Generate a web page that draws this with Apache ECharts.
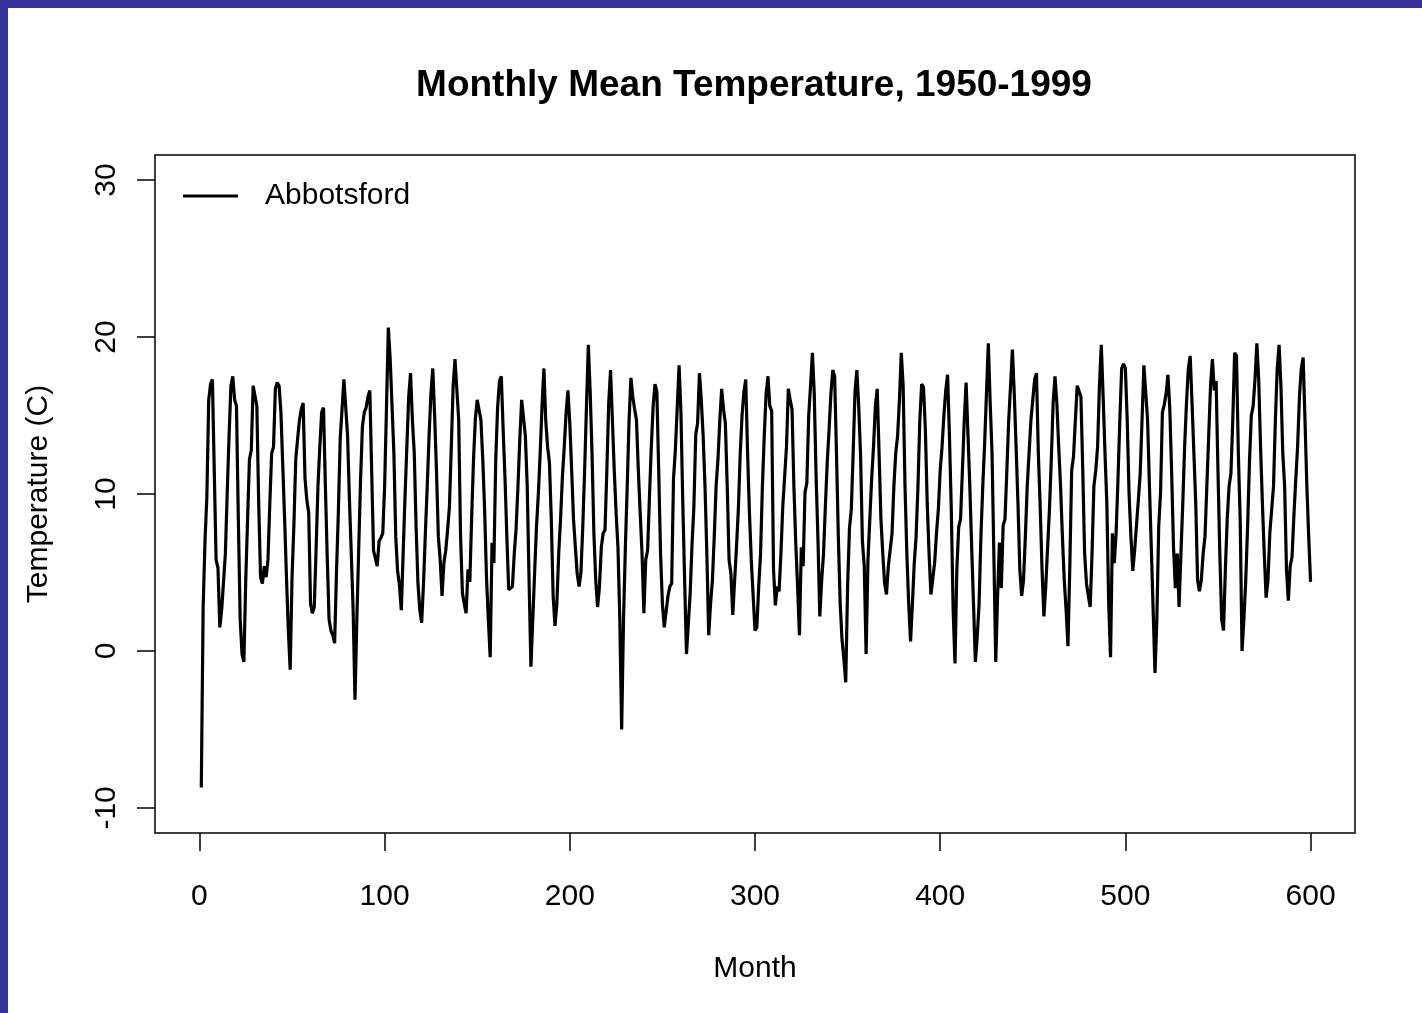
<!DOCTYPE html>
<html>
<head>
<meta charset="utf-8">
<script src="https://cdn.jsdelivr.net/npm/echarts/dist/echarts.min.js"></script>
<style>
html,body{margin:0;padding:0;background:#ffffff;}
#chart{position:absolute;left:0;top:0;width:1422px;height:1013px;}
.bl{position:absolute;left:0;top:0;width:8px;height:1013px;background:#333399;z-index:5;}
.bt{position:absolute;left:0;top:0;width:1422px;height:8px;background:#333399;z-index:5;}
</style>
</head>
<body>
<div id="chart"></div>
<div class="bl"></div>
<div class="bt"></div>
<script>
// Monthly mean temperature, Abbotsford, one array per decade (12 values per year)
var temps1950s = [
  -8.7, 2.8, 7.0, 9.8, 16.0, 17.0, 17.3, 11.5, 5.8, 5.3, 1.5, 2.6,
  2.6, 6.2, 10.1, 13.7, 16.9, 17.5, 16.0, 15.6, 8.4, 2.0, -0.2, -0.7,
  4.5, 8.4, 12.2, 12.8, 16.9, 17.0, 15.6, 9.4, 4.7, 4.3, 5.4, 4.7,
  5.8, 9.4, 12.6, 13.0, 16.7, 17.1, 16.9, 15.2, 11.8, 8.4, 4.7, 1.3,
  -1.2, 4.7, 8.0, 12.2, 13.5, 14.7, 15.4, 15.8, 11.0, 9.6, 8.8, 3.0,
  2.4, 2.8, 6.5, 10.5, 13.0, 15.2, 15.5, 10.5, 6.0, 2.0, 1.3, 1.0,
  0.5, 5.0, 8.8, 13.5, 13.6, 17.3, 17.2, 13.7, 9.6, 6.2, 2.6, -3.1,
  2.0, 6.5, 10.9, 14.3, 15.2, 15.5, 16.2, 16.6, 11.5, 6.4, 5.9, 5.4,
  7.0, 7.2, 7.5, 10.5, 15.5, 20.6, 18.6, 15.6, 12.6, 7.3, 5.1, 4.2,
  2.6, 6.2, 9.8, 13.0, 16.2, 17.7, 14.7, 12.6, 7.9, 4.3, 2.6, 1.8
];
var temps1960s = [
  4.3, 7.5, 10.5, 13.7, 16.4, 18.0, 15.0, 11.5, 7.3, 5.8, 3.5, 5.6,
  6.4, 7.7, 9.2, 13.0, 16.9, 18.6, 18.6, 14.7, 7.3, 3.7, 3.0, 2.4,
  5.2, 4.4, 8.5, 12.2, 14.8, 16.0, 16.1, 14.7, 12.2, 9.0, 4.7, 2.0,
  -0.4, 6.9, 5.6, 12.2, 15.5, 17.2, 17.5, 14.1, 11.0, 7.3, 3.9, 3.9,
  4.1, 6.2, 7.8, 10.5, 13.5, 16.0, 16.1, 13.7, 10.5, 4.5, -1.0, 2.0,
  5.0, 7.9, 10.0, 12.6, 15.6, 18.0, 14.7, 13.0, 12.0, 8.4, 3.5, 1.6,
  3.0, 6.2, 8.4, 11.1, 13.0, 15.2, 16.6, 14.5, 11.5, 8.4, 6.6, 4.9,
  4.1, 5.0, 7.9, 11.5, 15.6, 19.5, 16.5, 12.6, 7.5, 4.5, 2.8, 4.1,
  6.6, 7.5, 7.7, 11.5, 15.8, 17.9, 14.7, 11.5, 8.8, 6.6, 2.0, -5.0,
  2.0, 6.6, 10.5, 14.7, 17.4, 16.2, 15.4, 14.7, 11.5, 8.8, 6.2, 2.4
];
var temps1970s = [
  5.8, 6.4, 9.8, 13.0, 15.6, 17.0, 16.5, 11.5, 6.2, 3.0, 1.5, 2.5,
  3.5, 4.1, 4.3, 11.0, 12.8, 15.5, 18.2, 15.2, 9.5, 4.5, -0.2, -0.3,
  3.7, 6.8, 9.2, 13.8, 14.5, 17.7, 16.0, 13.7, 10.5, 6.2, 1.0, 3.0,
  4.5, 7.3, 10.5, 12.2, 14.7, 16.7, 15.4, 14.5, 10.5, 5.8, 4.9, 2.3,
  4.5, 6.6, 9.0, 12.5, 15.0, 16.5, 17.3, 12.6, 8.8, 5.8, 3.5, 1.3,
  1.5, 4.1, 6.2, 10.5, 13.7, 16.4, 17.5, 15.6, 15.3, 5.2, 2.9, 4.1,
  3.8, 6.2, 9.2, 11.1, 13.0, 16.7, 16.0, 15.4, 10.5, 6.9, 4.1, 1.0,
  6.6, 5.4, 10.1, 10.7, 15.0, 16.9, 19.0, 16.4, 11.1, 7.1, 2.2, 4.5,
  6.2, 9.2, 12.0, 14.1, 16.4, 17.9, 17.5, 12.6, 7.3, 3.0, 0.7, -0.5,
  -2.0, 4.1, 7.8, 9.0, 12.6, 16.5, 17.9, 15.6, 12.5, 7.0, 5.4, -0.2
];
var temps1980s = [
  5.8, 8.4, 11.0, 13.0, 15.6, 16.7, 12.6, 8.4, 6.2, 4.3, 3.6, 5.4,
  5.4, 7.5, 10.5, 12.6, 13.7, 16.0, 19.0, 16.9, 10.5, 6.2, 3.0, 0.6,
  3.0, 5.6, 7.3, 10.5, 14.7, 17.0, 16.8, 14.1, 9.4, 6.2, 3.6, 3.5,
  5.6, 7.5, 9.0, 11.5, 13.0, 15.0, 16.6, 17.6, 13.7, 9.0, 2.6, -0.8,
  5.2, 7.9, 8.4, 11.5, 14.7, 17.1, 17.0, 10.5, 6.6, 3.0, -0.7, 0.9,
  3.0, 7.3, 10.5, 13.2, 16.4, 19.6, 15.8, 12.6, 6.0, -0.7, 3.5, 6.9,
  4.0, 8.0, 8.4, 11.5, 14.7, 16.9, 19.2, 16.4, 13.0, 9.4, 5.2, 3.5,
  4.5, 7.3, 10.5, 12.6, 14.7, 16.0, 17.3, 17.7, 12.6, 9.2, 5.2, 2.2,
  4.1, 6.6, 9.0, 12.2, 15.8, 17.5, 15.8, 13.0, 10.5, 7.3, 4.5, 2.6,
  0.3, 5.4, 11.5, 12.4, 14.7, 16.9, 16.8, 16.2, 11.5, 6.2, 4.3, 3.5
];
var temps1990s = [
  2.8, 6.2, 10.5, 11.5, 13.0, 16.9, 19.5, 16.2, 12.6, 9.4, 3.0, -0.4,
  7.5, 5.6, 7.5, 10.9, 14.7, 18.0, 18.3, 18.0, 14.7, 10.0, 7.3, 5.1,
  6.4, 8.0, 9.6, 11.3, 14.7, 18.2, 18.1, 14.7, 10.5, 6.6, 2.6, -1.4,
  2.0, 7.9, 10.1, 15.2, 15.7, 16.4, 17.6, 15.4, 11.3, 6.6, 4.0, 6.2,
  2.8, 6.2, 9.4, 13.0, 15.8, 18.0, 18.8, 15.8, 12.6, 9.4, 4.5, 3.8,
  4.5, 6.2, 7.3, 10.5, 13.7, 16.9, 18.6, 16.6, 17.2, 11.5, 6.2, 2.0,
  1.3, 5.2, 8.4, 10.5, 11.3, 14.7, 19.0, 18.8, 12.6, 8.4, 0.0, 2.0,
  4.5, 7.9, 12.0, 15.0, 15.6, 17.3, 19.6, 17.3, 13.0, 9.4, 6.2, 3.4,
  4.5, 7.5, 9.0, 10.5, 14.7, 18.0, 19.5, 16.9, 12.6, 10.5, 5.2, 3.2,
  5.4, 6.0, 8.6, 10.9, 13.0, 16.2, 18.0, 18.7, 14.7, 10.5, 7.3, 4.4
];
var xTicks = [0, 100, 200, 300, 400, 500, 600];
var yTicks = [-10, 0, 10, 20, 30];
var seriesName = 'Abbotsford';
var titleText = 'Monthly Mean Temperature, 1950-1999';
var xName = 'Month';
var yName = 'Temperature (C)';

var temps = [].concat(temps1950s, temps1960s, temps1970s, temps1980s, temps1990s);
var seriesData = temps.map(function (v, i) { return [i + 1, v]; });

var FONT = '"Liberation Sans", Arial, Helvetica, sans-serif';
var chart = echarts.init(document.getElementById('chart'), null, { renderer: 'canvas' });
chart.setOption({
  animation: false,
  backgroundColor: '#ffffff',
  title: {
    text: titleText,
    left: 749,
    top: 62,
    textAlign: 'center',
    textStyle: { fontFamily: FONT, fontSize: 37, fontWeight: 'bold', color: '#000' }
  },
  legend: {
    left: 178,
    top: 176,
    icon: 'rect',
    itemWidth: 55,
    itemHeight: 3,
    data: [seriesName],
    itemStyle: { color: '#000', borderWidth: 0 },
    textStyle: { fontFamily: FONT, fontSize: 30, color: '#000', padding: [0, 0, 0, 22] }
  },
  grid: {
    left: 155, right: 67, top: 155, bottom: 180,
    show: true, borderColor: '#000', borderWidth: 1.5, backgroundColor: 'transparent'
  },
  xAxis: {
    type: 'value', min: -24, max: 624,
    name: xName, nameLocation: 'middle', nameGap: 121,
    nameTextStyle: { fontFamily: FONT, fontSize: 30, color: '#000' },
    axisLine: { show: false, onZero: false },
    axisTick: { show: true, inside: false, length: 18, customValues: xTicks, lineStyle: { color: '#000', width: 1.5 } },
    axisLabel: { customValues: xTicks, margin: 49, fontFamily: FONT, fontSize: 30, color: '#000' },
    splitLine: { show: false }
  },
  yAxis: {
    type: 'value', min: -11.6, max: 31.6,
    name: yName, nameLocation: 'middle', nameGap: 101, nameRotate: 90,
    nameTextStyle: { fontFamily: FONT, fontSize: 30, color: '#000' },
    axisLine: { show: false, onZero: false },
    axisTick: { show: true, inside: false, length: 18, customValues: yTicks, lineStyle: { color: '#000', width: 1.5 } },
    axisLabel: { customValues: yTicks, rotate: 90, margin: 33, fontFamily: FONT, fontSize: 30, color: '#000' },
    splitLine: { show: false }
  },
  series: [{
    name: seriesName,
    type: 'line',
    data: seriesData,
    showSymbol: false,
    symbol: 'none',
    lineStyle: { color: '#000', width: 3.2 },
    itemStyle: { color: '#000' }
  }]
});
</script>
</body>
</html>
